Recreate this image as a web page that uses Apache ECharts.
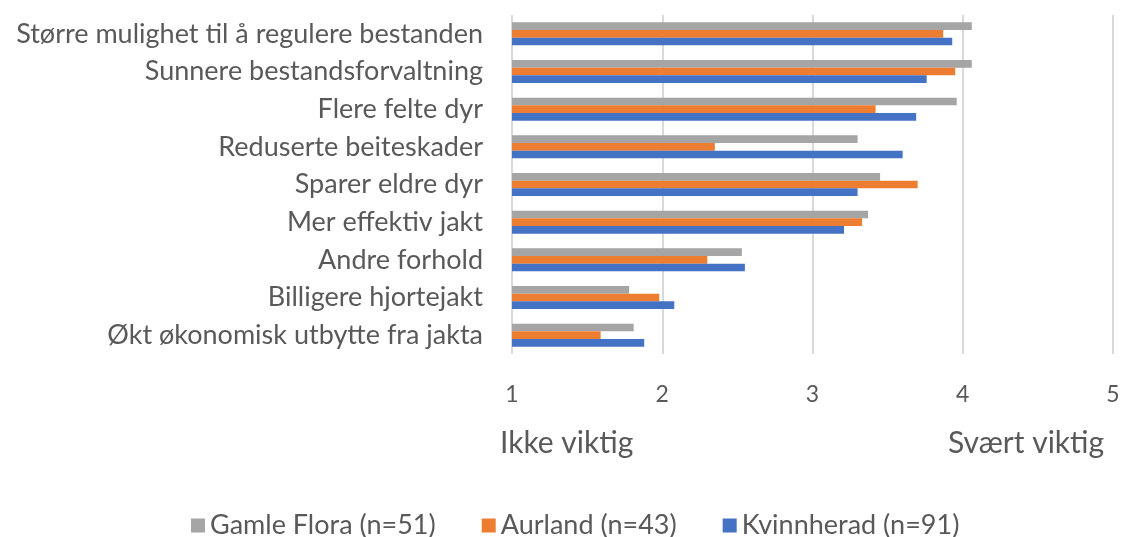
<!DOCTYPE html>
<html>
<head>
<meta charset="utf-8">
<script src="https://cdn.jsdelivr.net/npm/echarts@6/dist/echarts.min.js"></script>
<style>
  html, body { margin: 0; padding: 0; background: #fff; }
  #chart { width: 1125px; height: 537px; }
</style>
</head>
<body>
<div id="chart"></div>
<script>
// kategorier, ovenfra og ned
var categories = [
  'Større mulighet til å regulere bestanden',
  'Sunnere bestandsforvaltning',
  'Flere felte dyr',
  'Reduserte beiteskader',
  'Sparer eldre dyr',
  'Mer effektiv jakt',
  'Andre forhold',
  'Billigere hjortejakt',
  'Økt økonomisk utbytte fra jakta'
]
var gamleFlora = [4.06, 4.06, 3.96, 3.30, 3.45, 3.37, 2.53, 1.78, 1.81]
var aurland = [3.87, 3.95, 3.42, 2.35, 3.70, 3.33, 2.30, 1.98, 1.59]
var kvinnherad = [3.93, 3.76, 3.69, 3.60, 3.30, 3.21, 2.55, 2.08, 1.88]
var seriesNames = ['Gamle Flora (n=51)', 'Aurland (n=43)', 'Kvinnherad (n=91)']
var xTicks = [1, 2, 3, 4, 5]

var font = 'Lato, sans-serif'
var textColor = '#595959'

var chart = echarts.init(document.getElementById('chart'))
chart.setOption({
  animation: false,
  textStyle: { fontFamily: font },
  color: ['#A5A5A5', '#ED7D31', '#4472C4'],
  grid: { left: 512, right: 12, top: 15, bottom: 183, containLabel: false },
  legend: {
    data: seriesNames,
    top: 507,
    left: 186,
    itemWidth: 14,
    itemHeight: 14,
    itemGap: 46,
    icon: 'rect',
    textStyle: { fontSize: 27, color: textColor, fontFamily: font }
  },
  xAxis: {
    type: 'value',
    min: xTicks[0],
    max: xTicks[xTicks.length - 1],
    interval: 1,
    axisLine: { show: false },
    axisTick: { show: false },
    axisLabel: { fontSize: 23, color: textColor, margin: 29 },
    splitLine: { show: true, lineStyle: { color: '#d9d9d9', width: 2 } }
  },
  yAxis: {
    type: 'category',
    data: categories,
    inverse: true,
    axisLine: { show: false },
    axisTick: { show: false },
    axisLabel: { fontSize: 27, color: textColor, margin: 29 }
  },
  graphic: [
    { type: 'text', left: 500, top: 428, style: { text: 'Ikke viktig', fontSize: 30, fill: textColor, fontFamily: font } },
    { type: 'text', left: 948, top: 428, style: { text: 'Svært viktig', fontSize: 30, fill: textColor, fontFamily: font } }
  ],
  series: [
    { name: seriesNames[0], type: 'bar', data: gamleFlora, barGap: '0%', barCategoryGap: '39%' },
    { name: seriesNames[1], type: 'bar', data: aurland, barGap: '0%', barCategoryGap: '39%' },
    { name: seriesNames[2], type: 'bar', data: kvinnherad, barGap: '0%', barCategoryGap: '39%' }
  ]
})
</script>
</body>
</html>
